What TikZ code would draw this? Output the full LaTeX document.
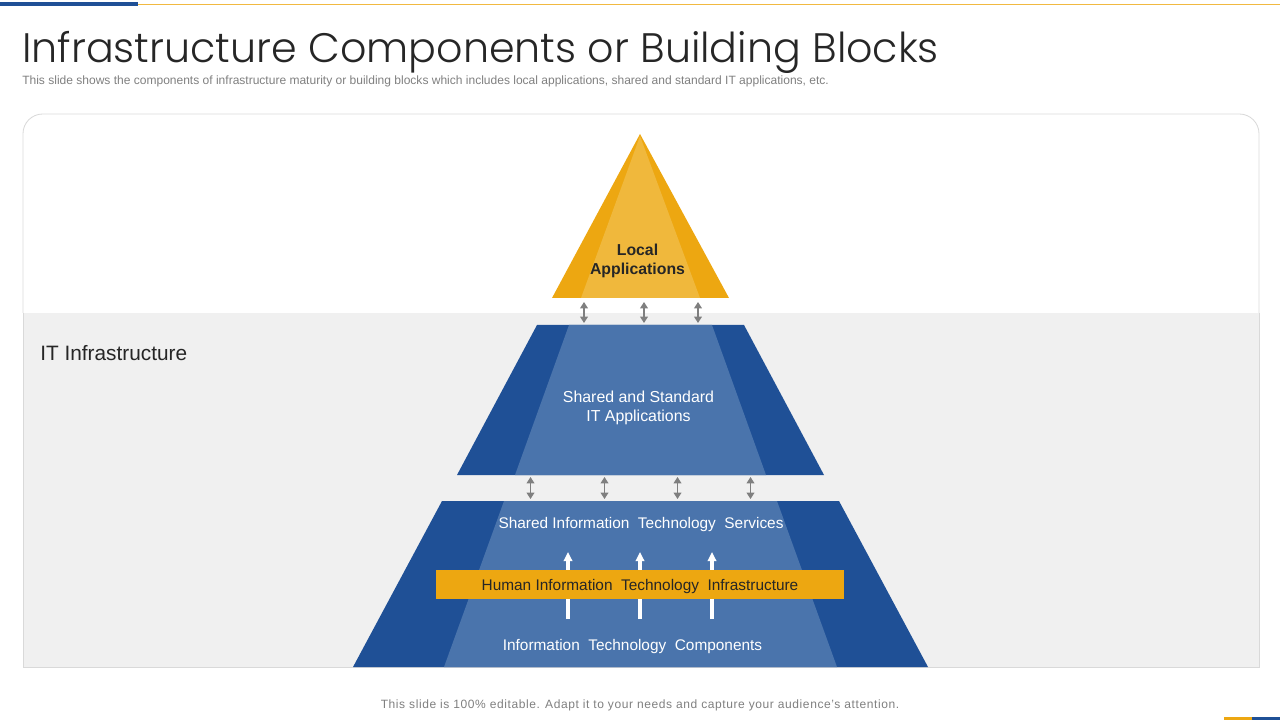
\documentclass[tikz,border=0pt]{standalone}
\usepackage{fontspec}
\setmainfont{Liberation Sans}
\newfontfamily\titlefont{Poppins Light}
\usetikzlibrary{arrows.meta}
\definecolor{myblue}{HTML}{1F5096}
\definecolor{mylightblue}{HTML}{4A74AC}
\definecolor{mygold}{HTML}{EDA711}
\definecolor{mylightgold}{HTML}{F0B83C}
\definecolor{mypanel}{HTML}{F0F0F0}
\definecolor{myedge}{HTML}{D9D9D9}
\definecolor{mytext}{HTML}{262626}
\definecolor{mygray}{HTML}{7F7F7F}
\tikzset{
    whitelabel/.style={text=white, font=\fontsize{10.95pt}{13.6pt}\selectfont, align=center, inner sep=0pt},
    darklabel/.style={text=mytext, font=\fontsize{10.95pt}{13.6pt}\selectfont, align=center, inner sep=0pt},
    linkarrow/.style={mygray, line width=0.85pt, {Triangle[length=4.5pt,width=5.5pt]}-{Triangle[length=4.5pt,width=5.5pt]}},
    uparrow/.style={white, line width=2.2pt, -{Triangle[length=6.5pt,width=6pt]}}
}

\begin{document}
\begin{tikzpicture}[x=0.025cm, y=-0.025cm]
    \useasboundingbox (0,0) rectangle (1280,720);

    % top rule and corner marks
    \fill[mygold!80] (138,4) rectangle (1280,5);
    \fill[myblue] (0,2) rectangle (138,6);
    \fill[mygold] (1224,717) rectangle (1252,720);
    \fill[myblue] (1252,717) rectangle (1280,720);

    \node[anchor=base west, inner sep=0pt, text=mytext, font=\titlefont\fontsize{29.3pt}{36pt}\selectfont] (title) at (22,62.5) {Infrastructure Components or Building Blocks};
    \node[anchor=west, inner sep=0pt, text=mygray, font=\fontsize{8.55pt}{10pt}\selectfont] (subtitle) at (22,81) {This slide shows the components of infrastructure maturity or building blocks which includes local applications, shared and standard IT applications, etc.};

    % panel
    \fill[mypanel] (23,313) rectangle (1259,667);
    \draw[myedge, line width=0.6pt, rounded corners=14pt] (23,313) -- (23,114) -- (1259,114) -- (1259,313);
    \draw[myedge, line width=0.6pt] (23,313) -- (23,667) -- (1259,667) -- (1259,313);
    \node[anchor=west, inner sep=0pt, text=mytext, font=\fontsize{14.8pt}{16pt}\selectfont] (itlabel) at (40,353) {IT Infrastructure};

    % pyramid
    \fill[mygold] (640,134) -- (729,298) -- (552,298) -- cycle;
    \fill[mylightgold] (640,136) -- (700,298) -- (581,298) -- cycle;

    \fill[myblue] (537,325) -- (744,325) -- (824,475) -- (457,475) -- cycle;
    \fill[mylightblue] (569,325) -- (712,325) -- (766,475) -- (515,475) -- cycle;

    \fill[myblue] (442,501) -- (839,501) -- (928,667) -- (353,667) -- cycle;
    \fill[mylightblue] (504,501) -- (777,501) -- (837,667) -- (444,667) -- cycle;

    \node[darklabel, font=\bfseries\fontsize{11.25pt}{13.6pt}\selectfont] (local) at (637.5,261) {Local\\Applications};
    \node[whitelabel, font=\fontsize{11.3pt}{13.6pt}\selectfont] (shared) at (638.5,407.5) {Shared and Standard\\IT Applications};
    \node[whitelabel] (services) at (641,525) {Shared Information\ \ Technology\ \ Services};
    \node[whitelabel] (components) at (632.5,647) {Information\ \ Technology\ \ Components};

    % white arrows run behind the bar
    \foreach \x in {568,640,712} {
        \coordinate (low\x) at (\x,619);
        \coordinate (high\x) at (\x,552);
        \draw[uparrow] (low\x) -- (high\x);
    };

    \fill[mygold] (436,570) rectangle (844,599);
    \node[darklabel] (human) at (640,587) {Human Information\ \ Technology\ \ Infrastructure};

    % links between the tiers
    \foreach \tag/\x/\ya/\yb in {
        p/584/302/323,
        q/644/302/323,
        r/698/302/323,
        s/530.5/477/499,
        t/604.5/477/499,
        u/677.5/477/499,
        v/750.5/477/499
    } {
        \coordinate (from\tag) at (\x,\ya);
        \coordinate (to\tag) at (\x,\yb);
        \draw[linkarrow] (from\tag) -- (to\tag);
    };

    \node[inner sep=0pt, text=mygray, font=\fontsize{8.55pt}{10pt}\selectfont] (footer) at (640,705) {\addfontfeatures{LetterSpace=4.9}This slide is 100\% editable. Adapt it to your needs and capture your audience's attention.};
\end{tikzpicture}
\end{document}
